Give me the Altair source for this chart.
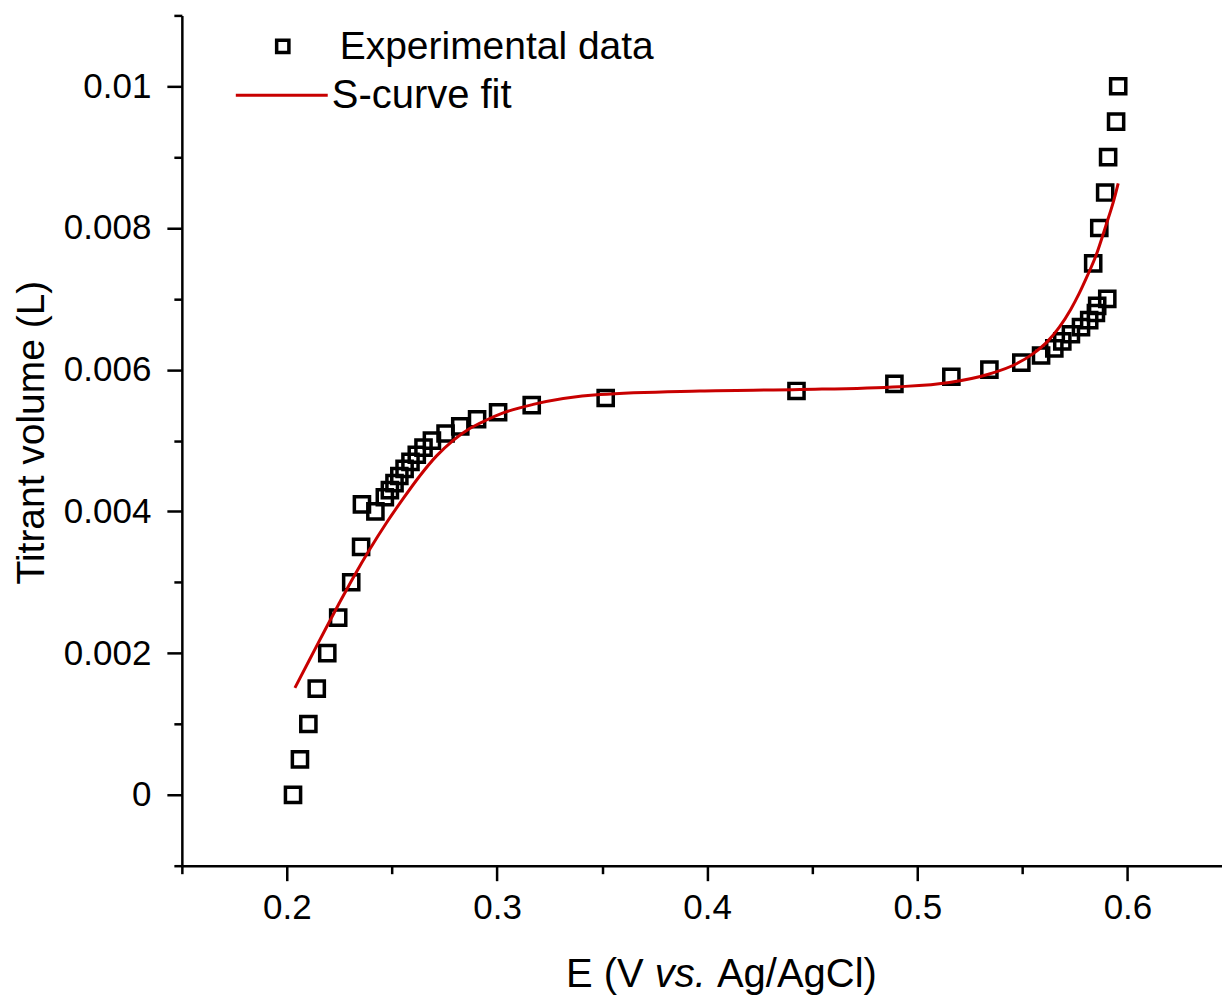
import altair as alt
import pandas as pd

# Experimental data (E in V vs Ag/AgCl, titrant volume in L)
exp_E = [0.2029, 0.2062, 0.2102, 0.2142, 0.2192, 0.2244, 0.2306, 0.2353, 0.2357, 0.2421,
         0.2466, 0.2490, 0.2512, 0.2535, 0.2560, 0.2588, 0.2618, 0.2650, 0.2690, 0.2755,
         0.2825, 0.2905, 0.3005, 0.3165, 0.3517, 0.4425, 0.4891, 0.5162, 0.5343, 0.5495,
         0.5589, 0.5652, 0.5690, 0.5731, 0.5779, 0.5818, 0.5850, 0.5856, 0.5904,
         0.5837, 0.5866, 0.5894, 0.5908, 0.5946, 0.5956]
exp_V = [0.0, 0.0005, 0.001, 0.0015, 0.002, 0.0025, 0.003, 0.0035, 0.0041, 0.004,
         0.0042, 0.0043, 0.0044, 0.0045, 0.0046, 0.0047, 0.0048, 0.0049, 0.005, 0.0051,
         0.0052, 0.0053, 0.0054, 0.0055, 0.0056, 0.0057, 0.0058, 0.0059, 0.006, 0.0061,
         0.0062, 0.0063, 0.0064, 0.0065, 0.0066, 0.0067, 0.0068, 0.0069, 0.007,
         0.0075, 0.008, 0.0085, 0.009, 0.0095, 0.01]

# S-curve fit
fit_E = [0.2038, 0.2110, 0.2180, 0.2250, 0.2320, 0.2395, 0.2474, 0.2553, 0.2632, 0.2711,
         0.2790, 0.2870, 0.2950, 0.3029, 0.3172, 0.3489, 0.3965, 0.4441, 0.4915, 0.5153,
         0.5343, 0.5470, 0.5548, 0.5620, 0.5676, 0.5730, 0.5771, 0.5810, 0.5849, 0.5897,
         0.5936, 0.5956]
fit_V = [0.00151, 0.00192, 0.00232, 0.00271, 0.00309, 0.00347, 0.00384, 0.00418, 0.00450, 0.00478,
         0.00500, 0.00517, 0.00529, 0.00539, 0.00551, 0.00565, 0.00570, 0.00572, 0.00576, 0.00582,
         0.00594, 0.00608, 0.00622, 0.00640, 0.00660, 0.00685, 0.00708, 0.00733, 0.00760, 0.00803,
         0.00840, 0.00863]

x_ticks = [0.15, 0.2, 0.25, 0.3, 0.35, 0.4, 0.45, 0.5, 0.55, 0.6]
y_ticks = [-0.001, 0.0, 0.001, 0.002, 0.003, 0.004, 0.005, 0.006, 0.007, 0.008, 0.009, 0.01, 0.011]

legend_labels = ["Experimental data", "S-curve fit"]
x_title_parts = ["E (V", "vs.", "Ag/AgCl)"]

exp_df = pd.DataFrame({"E": exp_E, "V": exp_V})
fit_df = pd.DataFrame({"E": fit_E, "V": fit_V})

FONT = "Liberation Sans"
W, H = 1041, 851
RED = "#c80000"

x_major = "abs(datum.value*10 - round(datum.value*10)) < 1e-6"
y_major = "round(datum.value*1000) % 2 == 0"

x_scale = alt.Scale(domain=[0.15, 0.645], nice=False, zero=False)
y_scale = alt.Scale(domain=[-0.001, 0.011], nice=False, zero=False)

x_axis = alt.Axis(
    values=x_ticks, title=None, grid=False,
    labelExpr=f"{x_major} ? format(datum.value, '.1f') : ''",
    tickSize={"condition": {"test": x_major, "value": 15}, "value": 8},
    tickWidth=2.5, tickColor="black", domainColor="black", domainWidth=2.5,
    labelFont=FONT, labelFontSize=35, labelColor="black", labelPadding=10,
    labelOverlap=False, labelFlush=False,
)
y_axis = alt.Axis(
    values=y_ticks, title="Titrant volume (L)", grid=False,
    labelExpr=f"{y_major} ? format(datum.value, '~g') : ''",
    tickSize={"condition": {"test": y_major, "value": 15}, "value": 8},
    tickWidth=2.5, tickColor="black", domainColor="black", domainWidth=2.5,
    labelFont=FONT, labelFontSize=35, labelColor="black", labelPadding=16,
    labelOverlap=False, labelFlush=False,
    titleFont=FONT, titleFontSize=39, titleFontWeight="normal", titleColor="black",
    titleX=-150, titleY=417, titleBaseline="middle", titleAnchor="middle", titleAngle=-90,
)

pts = alt.Chart(exp_df).mark_point(shape="square", filled=False, color="black",
                                   strokeWidth=3.5, size=230, opacity=1).encode(
    x=alt.X("E:Q", scale=x_scale, axis=x_axis),
    y=alt.Y("V:Q", scale=y_scale, axis=y_axis),
)
fit = alt.Chart(fit_df).mark_line(color=RED, strokeWidth=3, interpolate="monotone").encode(
    x=alt.X("E:Q", scale=x_scale),
    y=alt.Y("V:Q", scale=y_scale),
)

# x-axis title with italic "vs."
tdf = pd.DataFrame({"t": x_title_parts})
TFS = 40
SP = 0.278 * TFS
w1 = (0.667 + 0.278 + 0.333 + 0.667) * TFS
w2 = (0.5 + 0.5 + 0.278) * TFS
w3 = (0.667 + 0.556 + 0.278 + 0.667 + 0.556 + 0.722 + 0.222 + 0.333) * TFS
total = w1 + SP + w2 + SP + w3
start = 540 - total / 2
offsets = [start, start + w1 + SP, start + w1 + SP + w2 + SP]
styles = ["normal", "italic", "normal"]
title_layers = []
for i in range(3):
    title_layers.append(
        alt.Chart(tdf.iloc[[i]]).mark_text(align="left", baseline="alphabetic", font=FONT,
                                           fontSize=TFS, fontStyle=styles[i], color="black").encode(
            x=alt.value(offsets[i]), y=alt.value(H + 121), text="t:N")
    )

leg_df = pd.DataFrame({"label": legend_labels})
leg_sq = alt.Chart(leg_df.iloc[[0]]).mark_point(shape="square", filled=False, color="black",
                                                strokeWidth=3.5, size=150, opacity=1).encode(
    x=alt.value(101), y=alt.value(31))
leg_line = alt.Chart(leg_df.iloc[[1]]).mark_rule(color=RED, strokeWidth=3).encode(
    x=alt.value(54), x2=alt.value(146), y=alt.value(80))
leg_txt1 = alt.Chart(leg_df.iloc[[0]]).mark_text(align="left", baseline="middle", font=FONT,
                                                 fontSize=39, color="black").encode(
    x=alt.value(158), y=alt.value(32), text="label:N")
leg_txt2 = alt.Chart(leg_df.iloc[[1]]).mark_text(align="left", baseline="middle", font=FONT,
                                                 fontSize=40, color="black").encode(
    x=alt.value(150), y=alt.value(81), text="label:N")

chart = alt.layer(pts, fit, *title_layers, leg_sq, leg_line, leg_txt1, leg_txt2).properties(
    width=W, height=H,
    autosize=alt.AutoSizeParams(type="none"),
    padding={"left": 174, "top": 7, "right": 0, "bottom": 132},
    background="white",
).configure_view(strokeWidth=0)

chart.save("out.html", embed_options={"renderer": "svg", "actions": False})
